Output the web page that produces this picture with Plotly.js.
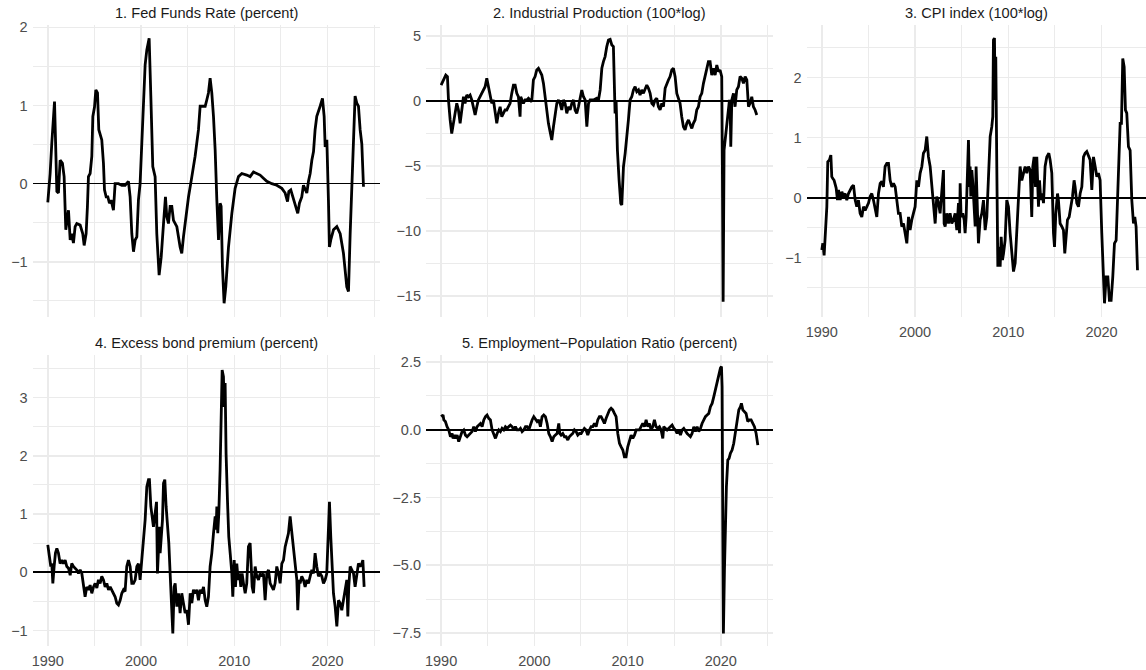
<!DOCTYPE html>
<html>
<head>
<meta charset="utf-8">
<script src="https://cdn.plot.ly/plotly-3.0.1.min.js"></script>
<style>html,body{margin:0;padding:0;background:#fff;}#chart{width:1146px;height:670px;}</style>
</head>
<body>
<div id="chart"></div>
<script>
const panelTitles = [
  "1. Fed Funds Rate (percent)",
  "2. Industrial Production (100*log)",
  "3. CPI index (100*log)",
  "4. Excess bond premium (percent)",
  "5. Employment\u2212Population Ratio (percent)"
];
const xTickValues = [1990, 2000, 2010, 2020];

const ffrYears = [1990.00,1990.25,1990.43,1990.72,1990.97,1991.14,1991.32,1991.57,1991.75,1991.93,1992.22,1992.40,1992.57,1992.75,1992.93,1993.11,1993.47,1993.75,1993.90,1994.11,1994.25,1994.36,1994.54,1994.72,1994.83,1995.01,1995.15,1995.33,1995.47,1995.68,1995.79,1995.97,1996.08,1996.26,1996.44,1996.61,1996.79,1997.04,1997.22,1997.58,1997.94,1998.29,1998.65,1998.83,1999.01,1999.19,1999.37,1999.55,1999.72,1999.90,2000.08,2000.26,2000.44,2000.62,2000.87,2001.05,2001.26,2001.51,2001.69,2001.94,2002.16,2002.41,2002.62,2002.76,2002.94,2003.12,2003.30,2003.48,2003.84,2004.19,2004.37,2004.55,2004.91,2005.09,2005.45,2005.80,2006.16,2006.34,2006.70,2006.88,2007.05,2007.23,2007.41,2007.59,2007.77,2007.95,2008.13,2008.31,2008.48,2008.59,2008.73,2008.91,2009.09,2009.38,2009.74,2010.09,2010.45,2010.81,2011.34,2011.70,2012.06,2012.42,2012.77,2013.13,2013.49,2014.03,2014.56,2015.10,2015.46,2015.71,2015.85,2016.06,2016.35,2016.64,2016.81,2016.99,2017.24,2017.42,2017.60,2017.78,2017.96,2018.14,2018.32,2018.50,2018.67,2018.85,2019.21,2019.46,2019.64,2019.75,2019.93,2020.03,2020.10,2020.21,2020.35,2020.64,2021.00,2021.36,2021.71,2022.07,2022.25,2022.43,2022.61,2022.79,2022.96,2023.14,2023.32,2023.50,2023.68,2023.86];
const ffrValues = [-0.24,0.13,0.52,1.05,-0.10,-0.12,0.30,0.26,0.09,-0.59,-0.34,-0.72,-0.64,-0.76,-0.55,-0.51,-0.53,-0.64,-0.79,-0.64,-0.29,0.09,0.13,0.35,0.86,0.98,1.20,1.16,0.69,0.60,0.56,0.26,-0.08,-0.17,-0.17,-0.25,-0.21,-0.34,0.00,0.00,-0.02,-0.02,0.03,-0.17,-0.64,-0.87,-0.72,-0.68,-0.21,0.00,0.47,1.03,1.52,1.71,1.86,1.12,0.22,0.09,-0.64,-1.17,-0.94,-0.51,-0.17,-0.42,-0.51,-0.29,-0.29,-0.47,-0.55,-0.81,-0.89,-0.68,-0.29,-0.17,0.09,0.35,0.69,0.99,0.99,0.99,1.07,1.16,1.35,1.16,0.86,0.43,-0.21,-0.72,-0.25,-0.29,-1.06,-1.53,-1.32,-0.81,-0.38,-0.06,0.09,0.13,0.11,0.09,0.15,0.13,0.11,0.07,0.03,0.00,-0.02,-0.06,-0.12,-0.23,-0.10,-0.08,-0.21,-0.32,-0.38,-0.25,-0.17,-0.02,-0.08,-0.12,0.03,0.13,0.30,0.41,0.69,0.86,0.99,1.09,0.86,0.47,0.56,0.22,-0.21,-0.81,-0.72,-0.59,-0.55,-0.64,-0.89,-1.32,-1.38,-0.64,0.00,0.73,1.12,1.03,0.99,0.69,0.51,-0.04];

const ipYears = [1990.00,1990.18,1990.32,1990.50,1990.68,1990.79,1990.97,1991.14,1991.32,1991.50,1991.68,1991.86,1992.04,1992.22,1992.40,1992.57,1992.75,1992.93,1993.11,1993.29,1993.47,1993.65,1993.83,1994.00,1994.18,1994.36,1994.54,1994.72,1994.90,1995.08,1995.26,1995.43,1995.61,1995.79,1995.97,1996.15,1996.33,1996.51,1996.69,1996.86,1997.04,1997.22,1997.40,1997.58,1997.76,1997.94,1998.12,1998.29,1998.47,1998.54,1998.65,1998.83,1999.01,1999.19,1999.37,1999.55,1999.72,1999.90,2000.08,2000.26,2000.44,2000.62,2000.80,2000.98,2001.15,2001.33,2001.51,2001.69,2001.87,2002.05,2002.23,2002.41,2002.59,2002.76,2002.94,2003.12,2003.30,2003.48,2003.66,2003.84,2004.02,2004.20,2004.37,2004.55,2004.73,2004.91,2005.09,2005.27,2005.45,2005.63,2005.81,2005.98,2006.34,2006.70,2006.88,2007.06,2007.24,2007.41,2007.59,2007.77,2007.95,2008.13,2008.31,2008.48,2008.59,2008.66,2008.77,2008.91,2009.09,2009.27,2009.38,2009.56,2009.74,2009.91,2010.09,2010.27,2010.45,2010.63,2010.81,2010.99,2011.17,2011.34,2011.52,2011.70,2011.88,2012.06,2012.24,2012.42,2012.60,2012.77,2012.95,2013.13,2013.31,2013.49,2013.67,2013.85,2014.03,2014.20,2014.38,2014.56,2014.74,2014.92,2015.10,2015.28,2015.46,2015.63,2015.81,2015.99,2016.17,2016.35,2016.53,2016.71,2016.89,2017.06,2017.24,2017.42,2017.60,2017.78,2017.96,2018.14,2018.32,2018.50,2018.67,2018.85,2019.03,2019.21,2019.39,2019.57,2019.75,2019.92,2020.10,2020.17,2020.25,2020.35,2020.46,2020.64,2020.82,2020.93,2021.00,2021.07,2021.18,2021.36,2021.53,2021.71,2021.89,2022.07,2022.25,2022.43,2022.61,2022.79,2022.97,2023.14,2023.32,2023.50,2023.68,2023.86];
const ipValues = [1.23,1.49,1.75,2.00,1.88,0.08,-1.46,-2.50,-1.72,-0.95,-0.18,-0.69,-1.72,-0.69,0.33,-0.18,0.46,0.33,0.46,0.08,-0.44,-1.08,-0.44,0.08,0.33,0.59,0.85,1.10,1.75,1.10,0.33,-0.18,0.08,-0.69,-1.72,-0.95,-0.44,-1.21,-0.95,-0.69,-0.69,-0.44,-0.18,0.59,1.23,1.23,0.59,0.33,-1.21,0.33,0.08,-0.18,0.08,0.08,0.21,0.08,-0.05,1.62,1.88,2.39,2.52,2.26,2.00,1.36,0.33,-0.69,-1.72,-2.36,-3.00,-1.98,-0.95,-0.18,0.08,-0.18,-0.69,0.08,-0.18,-0.95,-0.44,-0.69,-0.18,0.08,-0.69,-0.95,-0.44,0.33,0.85,0.33,0.08,-1.98,-0.18,0.08,0.08,0.21,0.08,0.85,2.52,3.03,3.42,4.19,4.70,4.75,4.32,4.19,-0.69,-0.95,0.08,-3.78,-6.09,-7.89,-8.01,-5.06,-4.03,-3.01,-1.46,0.08,0.33,0.85,1.10,0.72,0.85,0.46,0.85,0.59,0.98,1.23,0.98,0.59,-0.18,-0.31,0.08,0.21,-0.44,-0.69,-0.18,-0.44,0.98,1.36,1.62,1.88,2.39,2.52,1.88,0.59,0.08,-0.18,-1.21,-1.98,-2.23,-1.72,-1.46,-1.85,-2.11,-1.72,-1.46,-0.69,-0.44,0.33,0.59,1.36,2.00,2.65,3.03,3.03,2.00,2.52,2.00,2.77,2.26,2.39,1.88,-5.06,-15.46,-3.78,-3.01,-1.98,-0.95,0.08,-0.18,-3.52,0.08,0.59,-0.44,0.85,1.10,1.88,1.75,1.36,1.88,1.62,-0.44,-0.18,0.33,-0.44,-0.69,-1.08];

const cpiYears = [1990.00,1990.11,1990.25,1990.39,1990.54,1990.64,1990.82,1990.97,1991.07,1991.18,1991.32,1991.54,1991.68,1991.79,1991.97,1992.15,1992.32,1992.50,1992.68,1992.86,1993.04,1993.22,1993.40,1993.58,1993.75,1993.93,1994.11,1994.29,1994.47,1994.65,1994.83,1995.01,1995.18,1995.36,1995.54,1995.72,1995.90,1996.08,1996.26,1996.44,1996.61,1996.79,1996.97,1997.15,1997.33,1997.51,1997.69,1997.87,1998.04,1998.22,1998.40,1998.58,1998.76,1998.94,1999.12,1999.30,1999.47,1999.65,1999.83,2000.01,2000.19,2000.37,2000.55,2000.73,2000.90,2001.08,2001.26,2001.44,2001.62,2001.80,2001.98,2002.16,2002.33,2002.51,2002.69,2002.87,2003.05,2003.12,2003.23,2003.41,2003.59,2003.76,2003.94,2004.12,2004.30,2004.48,2004.66,2004.77,2004.84,2004.94,2005.12,2005.27,2005.37,2005.48,2005.62,2005.73,2005.84,2005.91,2005.98,2006.09,2006.20,2006.27,2006.45,2006.55,2006.63,2006.80,2006.98,2007.16,2007.34,2007.52,2007.70,2007.88,2008.06,2008.23,2008.34,2008.41,2008.52,2008.59,2008.66,2008.77,2008.88,2009.02,2009.13,2009.24,2009.38,2009.49,2009.66,2009.84,2010.02,2010.20,2010.38,2010.56,2010.74,2010.92,2011.09,2011.27,2011.45,2011.63,2011.81,2011.99,2012.17,2012.35,2012.52,2012.63,2012.77,2012.92,2013.06,2013.24,2013.35,2013.49,2013.63,2013.78,2013.95,2014.13,2014.35,2014.49,2014.67,2014.85,2014.96,2015.10,2015.28,2015.38,2015.56,2015.74,2015.92,2016.06,2016.21,2016.35,2016.53,2016.71,2016.89,2017.06,2017.17,2017.35,2017.53,2017.71,2017.89,2018.07,2018.24,2018.42,2018.60,2018.78,2018.96,2019.14,2019.32,2019.50,2019.67,2019.85,2020.03,2020.21,2020.32,2020.50,2020.68,2020.85,2021.03,2021.21,2021.39,2021.57,2021.71,2021.86,2022.00,2022.14,2022.28,2022.43,2022.57,2022.71,2022.89,2023.07,2023.25,2023.43,2023.57,2023.71,2023.86];
const cpiValues = [-0.87,-0.76,-0.96,-0.59,-0.15,0.60,0.63,0.71,0.35,0.32,0.29,0.16,-0.04,0.13,-0.04,0.10,0.02,0.07,-0.04,0.07,0.13,0.18,0.21,-0.04,-0.15,-0.04,-0.26,-0.32,-0.15,-0.21,-0.15,-0.09,0.02,0.07,-0.04,-0.21,-0.32,0.07,0.24,0.27,0.18,0.52,0.57,0.57,0.29,0.18,0.24,0.18,-0.04,-0.26,-0.26,-0.48,-0.43,-0.59,-0.76,-0.32,-0.54,-0.37,-0.26,-0.15,0.29,0.18,0.41,0.52,0.74,0.79,1.02,0.68,0.52,0.18,-0.15,-0.43,0.02,-0.09,-0.26,0.07,0.46,-0.43,-0.48,-0.26,-0.43,-0.26,-0.43,-0.37,-0.26,-0.54,-0.09,-0.59,0.24,-0.32,-0.26,-0.37,-0.59,-0.32,0.52,0.96,0.18,0.52,0.02,0.46,0.24,0.02,-0.48,0.52,0.18,-0.76,-0.37,-0.26,-0.04,-0.54,-0.32,0.46,1.02,1.18,1.35,2.63,2.66,1.63,2.35,0.52,-1.15,-0.82,-1.15,-0.65,-1.04,-0.93,-0.71,-0.04,-0.15,-0.59,-0.93,-1.23,-1.09,-0.59,-0.04,0.52,0.29,0.41,0.52,0.41,0.52,0.46,-0.32,0.52,0.68,0.18,0.68,-0.15,0.29,-0.04,0.07,-0.09,0.52,0.68,0.74,0.63,0.41,-0.59,-0.82,-0.26,0.07,-0.04,-0.43,-0.48,-0.54,-0.93,-0.59,-0.37,-0.32,-0.15,0.02,0.29,0.18,-0.09,-0.15,0.07,0.18,0.68,0.74,0.77,0.68,0.63,0.13,0.68,0.52,0.35,0.41,0.29,-0.59,-1.26,-1.76,-1.32,-1.32,-1.71,-1.71,-1.32,-0.76,-0.71,-0.04,0.41,1.24,1.24,2.32,2.18,1.46,1.41,0.85,0.79,-0.04,-0.43,-0.32,-0.48,-1.21];

const ebpYears = [1990.00,1990.18,1990.32,1990.43,1990.54,1990.68,1990.82,1990.97,1991.14,1991.32,1991.50,1991.68,1991.86,1992.04,1992.22,1992.40,1992.57,1992.75,1992.93,1993.11,1993.29,1993.47,1993.65,1993.83,1994.00,1994.18,1994.36,1994.54,1994.72,1994.90,1995.08,1995.26,1995.43,1995.61,1995.79,1995.97,1996.15,1996.33,1996.51,1996.69,1996.86,1997.04,1997.22,1997.40,1997.58,1997.76,1997.94,1998.12,1998.29,1998.47,1998.65,1998.83,1999.01,1999.19,1999.37,1999.55,1999.72,1999.90,2000.08,2000.26,2000.44,2000.62,2000.80,2000.90,2001.05,2001.19,2001.33,2001.51,2001.66,2001.76,2001.87,2001.98,2002.05,2002.16,2002.30,2002.41,2002.55,2002.69,2002.84,2002.98,2003.12,2003.30,2003.41,2003.55,2003.66,2003.84,2004.02,2004.19,2004.37,2004.55,2004.73,2004.91,2005.09,2005.27,2005.45,2005.62,2005.80,2005.98,2006.16,2006.34,2006.52,2006.70,2006.88,2007.05,2007.23,2007.41,2007.59,2007.77,2007.95,2008.05,2008.13,2008.23,2008.34,2008.48,2008.59,2008.70,2008.84,2008.91,2009.02,2009.12,2009.27,2009.41,2009.56,2009.74,2009.84,2009.99,2010.13,2010.27,2010.41,2010.56,2010.70,2010.84,2010.99,2011.17,2011.34,2011.52,2011.70,2011.81,2011.92,2012.06,2012.24,2012.42,2012.60,2012.77,2012.95,2013.13,2013.31,2013.49,2013.67,2013.85,2014.03,2014.20,2014.38,2014.56,2014.74,2014.92,2015.10,2015.28,2015.46,2015.63,2015.81,2015.99,2016.17,2016.35,2016.53,2016.71,2016.81,2016.96,2017.06,2017.24,2017.42,2017.60,2017.78,2017.96,2018.14,2018.32,2018.50,2018.67,2018.85,2019.03,2019.21,2019.39,2019.57,2019.75,2019.92,2020.10,2020.21,2020.35,2020.50,2020.64,2020.82,2021.00,2021.18,2021.36,2021.53,2021.71,2021.89,2022.07,2022.18,2022.28,2022.43,2022.61,2022.79,2022.96,2023.14,2023.32,2023.50,2023.68,2023.79,2023.93];
const ebpValues = [0.47,0.21,0.10,0.15,-0.19,0.10,0.33,0.41,0.33,0.15,0.21,0.15,0.21,0.10,0.07,-0.05,0.15,0.10,0.07,0.04,-0.02,0.04,-0.02,-0.19,-0.42,-0.25,-0.30,-0.22,-0.36,-0.25,-0.19,-0.27,-0.13,-0.19,-0.07,-0.13,-0.25,-0.19,-0.30,-0.25,-0.30,-0.36,-0.42,-0.53,-0.56,-0.48,-0.36,-0.30,-0.33,0.10,0.21,0.10,-0.19,-0.19,-0.13,0.10,0.15,-0.13,0.21,0.67,0.90,1.47,1.59,1.59,1.13,0.96,0.78,1.01,1.21,-0.02,0.33,0.78,0.33,0.67,0.90,1.53,1.59,1.13,0.78,0.50,-0.02,-0.53,-1.05,-0.25,-0.19,-0.59,-0.36,-0.70,-0.36,-0.53,-0.70,-0.65,-0.90,-0.36,-0.53,-0.30,-0.36,-0.30,-0.48,-0.30,-0.36,-0.25,-0.48,-0.59,-0.42,0.10,0.33,0.67,0.96,0.73,1.13,0.67,1.01,1.76,2.96,3.47,3.36,2.84,3.25,2.04,1.24,0.61,0.33,-0.02,-0.42,0.21,-0.25,0.15,-0.13,-0.02,-0.25,-0.02,-0.19,-0.36,-0.19,0.44,0.50,0.10,-0.25,-0.36,0.10,-0.07,-0.13,-0.02,-0.07,-0.02,-0.48,-0.02,0.04,-0.19,-0.25,-0.30,-0.19,0.10,-0.02,-0.19,0.15,0.21,0.44,0.56,0.67,0.96,0.67,0.33,0.04,-0.13,-0.65,-0.13,-0.19,-0.07,-0.13,-0.25,-0.13,-0.19,-0.07,0.04,-0.02,0.33,0.10,-0.07,-0.02,-0.07,-0.19,-0.13,-0.02,0.61,1.21,0.61,-0.02,-0.36,-0.59,-0.93,-0.48,-0.53,-0.65,-0.48,-0.25,-0.13,-0.76,-0.25,0.10,0.04,-0.02,-0.25,-0.07,0.15,0.10,0.15,0.21,-0.25];

const eprYears = [1990.00,1990.21,1990.29,1990.46,1990.64,1990.82,1991.00,1991.18,1991.29,1991.43,1991.57,1991.72,1991.89,1992.07,1992.25,1992.43,1992.61,1992.79,1992.97,1993.15,1993.32,1993.50,1993.68,1993.86,1994.04,1994.22,1994.40,1994.58,1994.76,1994.93,1995.11,1995.29,1995.47,1995.65,1995.83,1996.01,1996.19,1996.36,1996.54,1996.72,1996.90,1997.08,1997.26,1997.44,1997.62,1997.79,1997.97,1998.15,1998.33,1998.51,1998.69,1998.87,1999.05,1999.22,1999.40,1999.58,1999.76,1999.94,2000.12,2000.30,2000.48,2000.65,2000.83,2001.01,2001.19,2001.37,2001.55,2001.73,2001.91,2002.08,2002.26,2002.44,2002.62,2002.73,2002.87,2003.05,2003.23,2003.41,2003.59,2003.76,2003.94,2004.12,2004.30,2004.48,2004.66,2004.84,2005.02,2005.20,2005.37,2005.55,2005.73,2005.91,2006.09,2006.27,2006.45,2006.63,2006.80,2006.98,2007.16,2007.34,2007.52,2007.70,2007.88,2008.06,2008.23,2008.41,2008.59,2008.77,2008.95,2009.13,2009.31,2009.49,2009.66,2009.84,2010.02,2010.20,2010.38,2010.56,2010.74,2010.92,2011.09,2011.27,2011.45,2011.63,2011.81,2011.99,2012.17,2012.35,2012.52,2012.70,2012.88,2013.06,2013.24,2013.42,2013.60,2013.78,2013.88,2014.06,2014.24,2014.42,2014.60,2014.78,2014.96,2015.13,2015.31,2015.49,2015.67,2015.85,2016.03,2016.21,2016.39,2016.56,2016.74,2016.92,2017.10,2017.28,2017.46,2017.64,2017.82,2017.99,2018.17,2018.35,2018.53,2018.71,2018.89,2019.07,2019.25,2019.42,2019.60,2019.78,2019.96,2020.07,2020.14,2020.21,2020.28,2020.39,2020.50,2020.60,2020.75,2020.89,2021.03,2021.21,2021.39,2021.57,2021.75,2021.93,2022.11,2022.21,2022.36,2022.53,2022.71,2022.89,2023.07,2023.25,2023.43,2023.61,2023.79,2023.97];
const eprValues = [0.48,0.54,0.36,0.30,0.11,-0.01,-0.26,-0.14,-0.32,-0.20,-0.32,-0.20,-0.44,-0.26,-0.07,-0.01,-0.20,-0.26,-0.20,-0.14,-0.07,0.11,-0.07,0.11,0.17,0.23,0.11,0.36,0.48,0.54,0.42,0.36,-0.01,-0.14,-0.32,-0.14,-0.01,-0.07,0.05,-0.01,0.11,0.05,0.11,0.17,0.11,-0.01,0.11,-0.01,-0.01,0.05,-0.07,-0.01,0.11,0.11,-0.01,0.23,0.36,0.48,0.36,0.30,0.36,0.11,0.48,0.54,0.48,0.23,-0.14,-0.26,-0.44,-0.26,-0.20,-0.14,0.23,-0.14,-0.20,-0.14,-0.26,-0.26,-0.38,-0.26,-0.20,-0.14,-0.01,-0.07,-0.20,-0.14,-0.14,-0.01,0.05,-0.01,-0.20,-0.01,0.11,0.11,0.23,0.11,0.36,0.48,0.48,0.36,0.23,0.42,0.60,0.73,0.79,0.73,0.60,0.48,-0.14,-0.50,-0.63,-0.75,-1.00,-1.00,-0.63,-0.38,-0.20,-0.32,-0.20,-0.01,-0.01,-0.01,0.11,0.23,0.11,0.36,0.11,0.23,-0.01,0.11,0.36,0.11,0.05,0.11,-0.01,-0.32,0.11,0.05,-0.01,0.05,0.11,0.17,0.05,-0.01,-0.14,-0.01,-0.20,-0.01,0.05,-0.07,-0.14,-0.20,-0.26,-0.14,0.11,-0.07,0.11,-0.07,0.05,0.23,0.36,0.48,0.54,0.60,0.85,0.97,1.22,1.47,1.83,2.08,2.27,2.33,1.59,-3.34,-7.52,-5.18,-3.34,-2.11,-1.12,-1.06,-0.87,-0.75,-0.50,-0.14,0.23,0.73,0.85,0.97,0.73,0.67,0.60,0.30,0.36,0.36,0.23,0.11,-0.14,-0.57];

const series = [
  {x: ffrYears, y: ffrValues},
  {x: ipYears, y: ipValues},
  {x: cpiYears, y: cpiValues},
  {x: ebpYears, y: ebpValues},
  {x: eprYears, y: eprValues}
];

const W = 1146, H = 670;
const px = v => v / W;
const py = v => 1 - v / H;

// panel geometry (pixels)
const colX = [[32.7, 379.9], [426, 773.2], [806.7, 1146]];
const rowY = [[25, 317], [355, 646]];
const panelPos = [[0,0],[1,0],[2,0],[0,1],[1,1]];
const yRanges = [[-1.705, 2.029], [-16.63, 5.853], [-1.988, 2.878], [-1.265, 3.730], [-7.98, 2.756]];
const yDtick = [1, 5, 1, 1, 2.5];
const showXLabels = [false, false, true, true, true];
const fullXRange = [1988.38, 2025.62];
const pxPerYear = (379.9 - 32.7) / (fullXRange[1] - fullXRange[0]);

const tickFont = {family: "Liberation Sans, Arial, sans-serif", size: 14.5, color: "#4D4D4D"};
const gridColor = "#EBEBEB";

const data = series.map((s, i) => ({
  type: "scatter", mode: "lines",
  x: s.x, y: s.y,
  xaxis: i === 0 ? "x" : "x" + (i + 1),
  yaxis: i === 0 ? "y" : "y" + (i + 1),
  line: {color: "#000000", width: 2.8},
  hoverinfo: "skip", showlegend: false
}));

const layout = {
  width: W, height: H,
  margin: {l: 0, r: 0, t: 0, b: 0, pad: 0},
  paper_bgcolor: "#ffffff", plot_bgcolor: "#ffffff",
  showlegend: false,
  annotations: []
};

panelPos.forEach((p, i) => {
  const [c, r] = p;
  const xs = colX[c], ys = rowY[r];
  const xKey = i === 0 ? "xaxis" : "xaxis" + (i + 1);
  const yKey = i === 0 ? "yaxis" : "yaxis" + (i + 1);
  const xa = i === 0 ? "x" : "x" + (i + 1);
  const ya = i === 0 ? "y" : "y" + (i + 1);
  let xr = fullXRange.slice();
  if (c === 2) xr = [fullXRange[0], fullXRange[0] + (xs[1] - xs[0]) / pxPerYear];
  layout[xKey] = {
    domain: [px(xs[0]), px(xs[1])], anchor: ya, range: xr,
    tickmode: "array", tickvals: xTickValues, ticktext: xTickValues.map(String),
    showticklabels: showXLabels[i], ticks: "", ticklabelstandoff: 4,
    showgrid: true, gridcolor: gridColor, gridwidth: 1.5,
    minor: {tickmode: "linear", tick0: 1995, dtick: 10, showgrid: true, gridcolor: gridColor, gridwidth: 1},
    zeroline: false, showline: false, tickfont: tickFont, fixedrange: true
  };
  layout[yKey] = {
    domain: [py(ys[1]), py(ys[0])], anchor: xa, range: yRanges[i],
    tickmode: "linear", tick0: 0, dtick: yDtick[i],
    tickformat: i === 4 ? ".1f" : "",
    showgrid: true, gridcolor: gridColor, gridwidth: 1.5,
    minor: {tickmode: "linear", tick0: 0, dtick: yDtick[i] / 2, showgrid: true, gridcolor: gridColor, gridwidth: 1},
    zeroline: true, zerolinecolor: "#000000", zerolinewidth: 1.6,
    showline: false, ticks: "", ticklabelstandoff: 4, tickfont: tickFont, fixedrange: true
  };
  layout.annotations.push({
    text: panelTitles[i], xref: "paper", yref: "paper",
    x: px((colX[c][0] + Math.min(colX[c][1], colX[c][0] + 347.2)) / 2),
    y: py(ys[0] - 12), xanchor: "center", yanchor: "middle",
    showarrow: false,
    font: {family: "Liberation Sans, Arial, sans-serif", size: 14.6, color: "#1A1A1A"}
  });
});

Plotly.newPlot("chart", data, layout, {displayModeBar: false, staticPlot: true});
</script>
</body>
</html>
